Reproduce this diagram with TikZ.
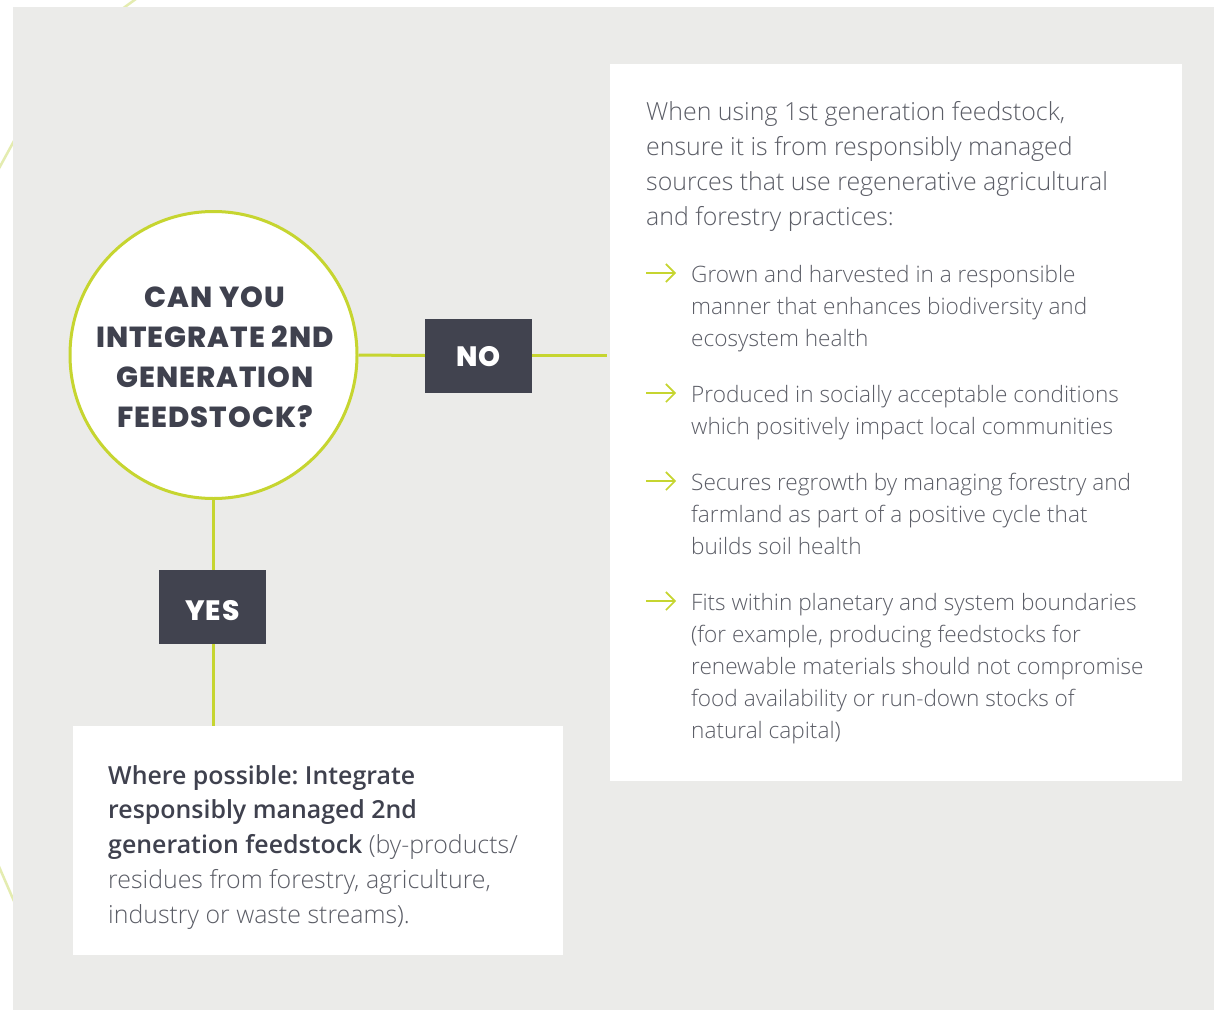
\documentclass[tikz,border=0pt]{standalone}
\usepackage{fontspec}
\setmainfont{Open Sans}
\newfontfamily\lightfont{Open Sans Light}
\newfontfamily\semifont{Open Sans Semibold}
\newfontfamily\headfont{Poppins ExtraBold}[LetterSpace=3.5]
\usetikzlibrary{arrows.meta}
\definecolor{bggray}{HTML}{EBEBE9}
\definecolor{lime}{HTML}{C6D530}
\definecolor{paleline}{HTML}{E4ECB0}
\definecolor{darkbox}{HTML}{41434F}
\definecolor{bodytext}{HTML}{5B5D66}
\definecolor{headtext}{HTML}{3F414E}
\tikzset{
  conn/.style={draw=lime, line width=3pt},
  answer/.style={rectangle, fill=darkbox, text=white, inner sep=0pt,
    minimum width=107pt, minimum height=74pt,
    font=\headfont\fontsize{28}{30}\selectfont},
  whitebox/.style={rectangle, fill=white, inner sep=0pt, anchor=north west},
  para/.style={anchor=base west, inner sep=0pt, text=bodytext},
  bullet/.style={draw=lime, line width=1.6pt, -{Straight Barb[length=9pt,width=18pt]}},
}
\newcommand{\bodyfont}[2]{\lightfont\fontsize{#1}{#2}\selectfont\frenchspacing}
\newcommand{\lowered}[2]{\raisebox{-#1}[\height][0pt]{#2}}
\begin{document}
\begin{tikzpicture}[x=1pt,y=-1pt]
\useasboundingbox (0,0) rectangle (1214,1011);
\fill[white] (0,0) rectangle (1214,1011);
% pale decorative lines behind the panel
\draw[paleline, line width=2.5pt] (118,12) -- (140,-4);
\draw[paleline, line width=2.5pt] (-3,172) -- (20,130);
\draw[paleline, line width=2.5pt] (-3,862) -- (20,915);
% panel
\fill[bggray] (13,7) rectangle (1214,1010);

% white boxes
\node[whitebox, minimum width=572pt, minimum height=717pt] (rbox) at (610,64) {};
\node[whitebox, minimum width=490pt, minimum height=229pt] (bbox) at (73,726) {};

% question circle
\node[circle, draw=lime, line width=3pt, fill=white, minimum size=287pt, inner sep=0pt] (q) at (213.5,355) {};
\node[align=center, text=headtext, inner sep=0pt, font=\headfont\fontsize{29}{40}\selectfont] (qtext) at (215,357)
  {CAN YOU\\INTEGRATE 2ND\\GENERATION\\FEEDSTOCK?};

% answers
\node[answer] (no) at (478.5,355.5) {\lowered{1pt}{NO}};
\node[answer] (yes) at (212.5,607) {\lowered{3pt}{YES}};

% connectors
\draw[conn] (q.east) -- (no.west);
\draw[conn, shorten >=3pt] (no.east) -- (no.east -| rbox.west);
\draw[conn] (q.south) -- (q.south |- yes.north);
\draw[conn] (q.south |- yes.south) -- (q.south |- bbox.north);

% right box text
\node[para] (intro) at (646,121) {\parbox[t]{540pt}{\bodyfont{24.9}{34.7}%
When using 1st generation feedstock,\\
ensure it is from responsibly managed\\
sources that use regenerative agricultural\\
and forestry practices:}};

\coordinate (a1s) at (646,273); \coordinate (a1e) at (676,273);
\coordinate (a2s) at (646,393); \coordinate (a2e) at (676,393);
\coordinate (a3s) at (646,481); \coordinate (a3e) at (676,481);
\coordinate (a4s) at (646,601); \coordinate (a4e) at (676,601);
\draw[bullet] (a1s) -- (a1e);
\draw[bullet] (a2s) -- (a2e);
\draw[bullet] (a3s) -- (a3e);
\draw[bullet] (a4s) -- (a4e);

\node[para] (b1) at (691,282) {\parbox[t]{500pt}{\bodyfont{22.6}{32}%
Grown and harvested in a responsible\\
manner that enhances biodiversity and\\
ecosystem health}};
\node[para] (b2) at (691,402) {\parbox[t]{500pt}{\bodyfont{22.6}{32}%
Produced in socially acceptable conditions\\
which positively impact local communities}};
\node[para] (b3) at (691,490) {\parbox[t]{500pt}{\bodyfont{22.6}{32}%
Secures regrowth by managing forestry and\\
farmland as part of a positive cycle that\\
builds soil health}};
\node[para] (b4) at (691,610) {\parbox[t]{500pt}{\bodyfont{22.6}{32}%
Fits within planetary and system boundaries\\
(for example, producing feedstocks for\\
renewable materials should not compromise\\
food availability or run-down stocks of\\
natural capital)}};

% bottom box text
\node[para] (yestext) at (108,784) {\parbox[t]{450pt}{\bodyfont{24.9}{34.8}%
\leavevmode{\semifont\color{headtext}Where possible: Integrate\\
responsibly managed 2nd\\
generation feedstock} (by-products/\\
residues from forestry, agriculture,\\
industry or waste streams).}};
\end{tikzpicture}
\end{document}
